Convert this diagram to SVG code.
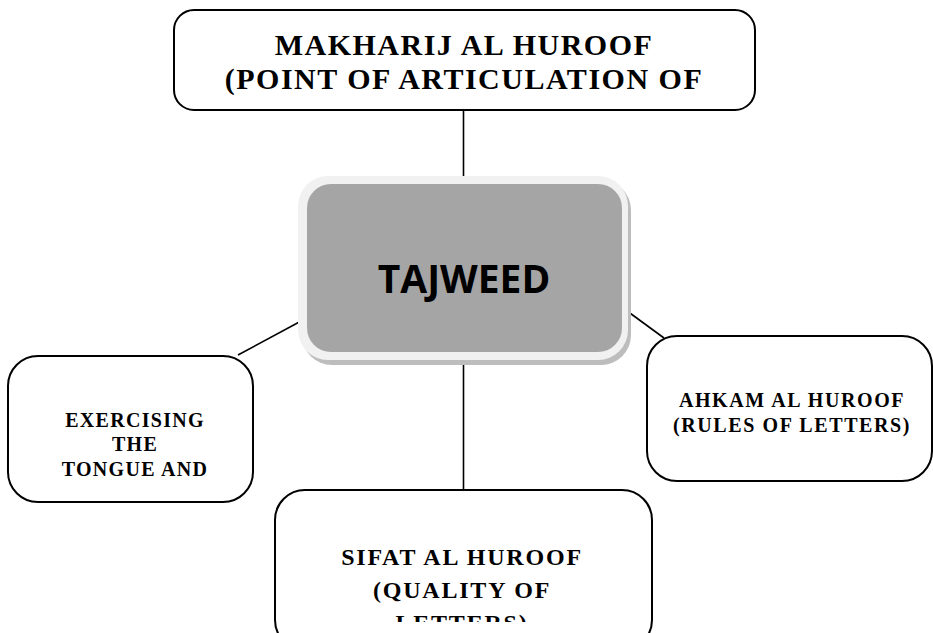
<svg xmlns="http://www.w3.org/2000/svg" width="933" height="633" viewBox="0 0 933 633">
<defs>
<style>
.box{fill:#fff;stroke:#000;stroke-width:2}
.lbl{font-family:"Liberation Serif","Times New Roman",serif;font-weight:bold;fill:#000;text-anchor:middle}
.conn{stroke:#000;stroke-width:1.6;fill:none}
</style>
<clipPath id="clipTop"><rect x="176" y="12" width="577" height="86"/></clipPath>
<clipPath id="clipBottom"><rect x="277" y="492" width="373" height="130"/></clipPath>
</defs>
<rect width="933" height="633" fill="#fff"/>
<g id="connectors">
<line class="conn" x1="463.5" y1="110" x2="463.5" y2="176"/>
<line class="conn" x1="463.5" y1="360" x2="463.5" y2="490"/>
<line class="conn" x1="238" y1="355" x2="303" y2="320"/>
<line class="conn" x1="623" y1="308" x2="664" y2="338"/>
</g>
<g id="node-makharij">
<rect class="box" x="174" y="10" width="581" height="100" rx="20"/>
<g clip-path="url(#clipTop)">
<text class="lbl" x="464" y="55" font-size="30" letter-spacing="1.5">MAKHARIJ AL HUROOF</text>
<text class="lbl" x="464" y="89" font-size="30" letter-spacing="1.5">(POINT OF ARTICULATION OF</text>
</g>
</g>
<g id="node-tajweed">
<rect x="302" y="180" width="329" height="185" rx="30" fill="#bdbdbd"/>
<rect x="298" y="176" width="330" height="184" rx="30" fill="#f1f1f1"/>
<rect x="307" y="184" width="315" height="168" rx="24" fill="#a5a5a5"/>
<text x="464" y="293" font-family="'Open Sans','Noto Sans',sans-serif" font-weight="bold" font-size="39" text-anchor="middle" fill="#000">TAJWEED</text>
</g>
<g id="node-exercising">
<rect class="box" x="8" y="356" width="245" height="146" rx="30"/>
<text class="lbl" x="135" y="427" font-size="20" letter-spacing="1.3">EXERCISING</text>
<text class="lbl" x="135" y="451" font-size="20" letter-spacing="1.3">THE</text>
<text class="lbl" x="135" y="476" font-size="20" letter-spacing="1.3">TONGUE AND</text>
</g>
<g id="node-ahkam">
<rect class="box" x="647" y="336" width="285" height="145" rx="30"/>
<text class="lbl" x="792" y="407" font-size="20" letter-spacing="1.6">AHKAM AL HUROOF</text>
<text class="lbl" x="792" y="432" font-size="20" letter-spacing="1.6">(RULES OF LETTERS)</text>
</g>
<g id="node-sifat">
<rect class="box" x="275" y="490" width="377" height="160" rx="30"/>
<g clip-path="url(#clipBottom)">
<text class="lbl" x="462" y="565" font-size="24" letter-spacing="1.8">SIFAT AL HUROOF</text>
<text class="lbl" x="462" y="598" font-size="24" letter-spacing="1.8">(QUALITY OF</text>
<text class="lbl" x="462" y="631" font-size="24" letter-spacing="1.8">LETTERS)</text>
</g>
</g>
</svg>
